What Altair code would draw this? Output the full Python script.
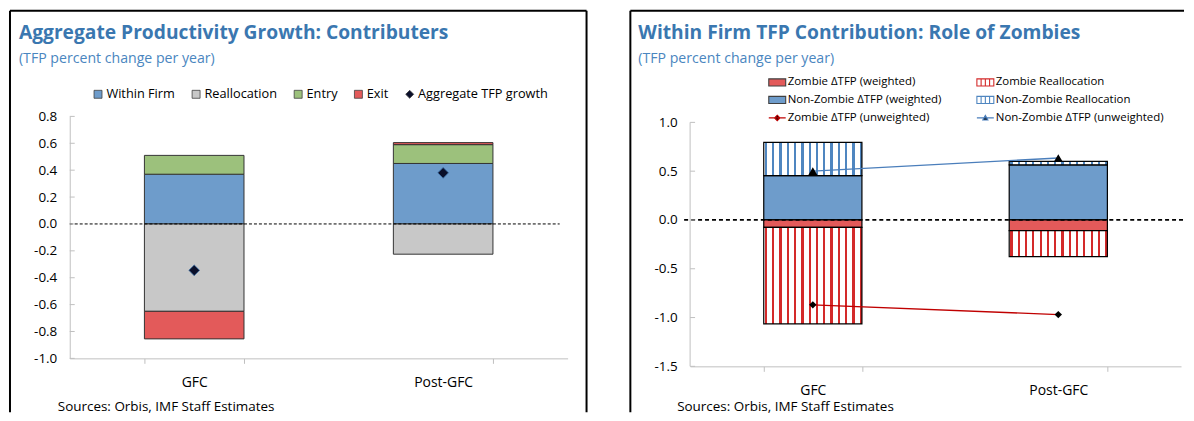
import altair as alt
import pandas as pd

PERIODS = ["GFC", "Post-GFC"]

# ---- Left panel: contributors to aggregate TFP growth ----
LEFT_TITLE = "Aggregate Productivity Growth: Contributers"
SUBTITLE = "(TFP percent change per year)"
SOURCES = "Sources: Orbis, IMF Staff Estimates"
LEFT_SERIES = ["Within Firm", "Reallocation", "Entry", "Exit", "Aggregate TFP growth"]
WITHIN_FIRM = [0.37, 0.45]
REALLOCATION = [-0.65, -0.225]
ENTRY = [0.14, 0.14]
EXIT = [-0.205, 0.015]
AGGREGATE = [-0.345, 0.38]
LEFT_TICKS = [0.8, 0.6, 0.4, 0.2, 0.0, -0.2, -0.4, -0.6, -0.8, -1.0]

# ---- Right panel: role of zombies ----
RIGHT_TITLE = "Within Firm TFP Contribution: Role of Zombies"
Z_W = "Zombie ΔTFP (weighted)"
Z_R = "Zombie Reallocation"
N_W = "Non-Zombie ΔTFP (weighted)"
N_R = "Non-Zombie Reallocation"
Z_U = "Zombie ΔTFP (unweighted)"
N_U = "Non-Zombie ΔTFP (unweighted)"
# legend fills column by column: col 1 then col 2
RIGHT_SERIES = [Z_W, N_W, Z_U, Z_R, N_R, N_U]
ZOMBIE_W = [-0.075, -0.11]
ZOMBIE_REALLOC = [-0.99, -0.265]
NONZOMBIE_W = [0.455, 0.565]
NONZOMBIE_REALLOC = [0.34, 0.035]
ZOMBIE_UNW = [-0.87, -0.97]
NONZOMBIE_UNW = [0.50, 0.635]
RIGHT_TICKS = [1.0, 0.5, 0.0, -0.5, -1.0, -1.5]

# ---- styles ----
FONT = "Open Sans"
GRAY = "#BFBFBF"
TITLE_BLUE = "#3A77B0"
SUB_BLUE = "#4A86C0"
BLUE = "#6E9CCB"
GREYF = "#C8C8C8"
GREEN = "#9CC17C"
RED = "#E35A5A"
LABEL_EXPR = "replace(format(datum.value, '.1f'), '\u2212', '-')"


def stripes(color, n=14, start=0.012, period=0.0742, w=0.022):
    stops = [{"offset": 0, "color": "white"}]
    for i in range(n):
        a = start + i * period
        b = min(a + w, 1)
        stops += [
            {"offset": a, "color": "white"},
            {"offset": a, "color": color},
            {"offset": b, "color": color},
            {"offset": b, "color": "white"},
        ]
    stops.append({"offset": 1, "color": "white"})
    return {"gradient": "linear", "x1": 0, "x2": 1, "y1": 0, "y2": 0, "stops": stops}


X_AXIS = alt.Axis(title=None, labelAngle=0, domainColor=GRAY, tickColor=GRAY,
                  tickBand="extent", tickSize=5, labelFontSize=14, labelColor="black",
                  labelPadding=12, labelFont=FONT)


def y_axis(values, domain=True):
    return alt.Axis(title=None, values=values, labelExpr=LABEL_EXPR, ticks=False,
                    domain=domain, domainColor=GRAY, labelFontSize=13.5, labelPadding=13,
                    grid=False, labelColor="black", labelFont=FONT, labelOverlap=False)


YAX_L = y_axis(LEFT_TICKS)
YAX_R = y_axis(RIGHT_TICKS, domain=False)


def text_layer(txt, x, y, size, color, weight="normal"):
    return alt.Chart(pd.DataFrame({"t": [txt]})).mark_text(
        align="left", baseline="alphabetic", fontSize=size, fontWeight=weight,
        color=color, font=FONT
    ).encode(text="t:N", x=alt.value(x), y=alt.value(y))


def rule_layer(**enc):
    return alt.Chart(pd.DataFrame({"a": [0]})).mark_rule(color="black", strokeWidth=2).encode(**enc)


# ================= LEFT =================
W1, H1 = 500, 243
xL = alt.Scale(domain=PERIODS, paddingInner=0.6, paddingOuter=0.3)
yL = alt.Scale(domain=[-1.0, 0.8], nice=False, zero=False)

rows = []
for i, p in enumerate(PERIODS):
    for o, (s, vals) in enumerate(zip(LEFT_SERIES[:4], [WITHIN_FIRM, REALLOCATION, ENTRY, EXIT])):
        rows.append({"period": p, "series": s, "value": vals[i], "ord": o})
left_df = pd.DataFrame(rows)
agg_df = pd.DataFrame({"period": PERIODS, "series": LEFT_SERIES[4], "value": AGGREGATE})

colL = alt.Scale(domain=LEFT_SERIES, range=[BLUE, GREYF, GREEN, RED, "#0A0F2A"])
shpL = alt.Scale(domain=LEFT_SERIES, range=["square", "square", "square", "square", "diamond"])
legL = alt.Legend(title=None, orient="none", legendX=22, legendY=-29, direction="horizontal",
                  symbolSize=64, labelFontSize=12.8, labelFont=FONT, labelColor="black",
                  columnPadding=14.5, symbolStrokeColor="#404040", symbolStrokeWidth=0.8,
                  labelOffset=2, labelLimit=300)

barsL = alt.Chart(left_df).mark_bar(stroke="#333333", strokeWidth=1).encode(
    x=alt.X("period:N", scale=xL, axis=X_AXIS, sort=PERIODS),
    y=alt.Y("value:Q", scale=yL, axis=YAX_L, stack="zero"),
    color=alt.Color("series:N", scale=colL, legend=legL),
    order=alt.Order("ord:Q"),
)
zeroL = alt.Chart(pd.DataFrame({"y": [0.0]})).mark_rule(color="black", strokeDash=[3, 2], strokeWidth=1).encode(
    y=alt.Y("y:Q", scale=yL, axis=YAX_L), x=alt.value(0), x2=alt.value(W1 - 8))
ptsL = alt.Chart(agg_df).mark_point(filled=True, size=115, stroke="#3A6EA5", strokeWidth=0.8, opacity=1).encode(
    x=alt.X("period:N", scale=xL, sort=PERIODS, axis=X_AXIS),
    y=alt.Y("value:Q", scale=yL, axis=YAX_L),
    color=alt.Color("series:N", scale=colL, legend=legL),
    shape=alt.Shape("series:N", scale=shpL, legend=legL),
)
ticksL = alt.Chart(pd.DataFrame({"v": LEFT_TICKS})).mark_rule(color=GRAY).encode(
    y=alt.Y("v:Q", scale=yL, axis=YAX_L), x=alt.value(0), x2=alt.value(5))

left = alt.layer(
    barsL, zeroL, ptsL, ticksL,
    text_layer(LEFT_TITLE, -51, -78, 19.3, TITLE_BLUE, "bold"),
    text_layer(SUBTITLE, -51, -54, 14.2, SUB_BLUE),
    text_layer(SOURCES, -12, 296, 13.5, "black"),
    rule_layer(x=alt.value(-60), y=alt.value(-106), y2=alt.value(H1 + 54)),
    rule_layer(x=alt.value(-60), x2=alt.value(W1 + 19), y=alt.value(-106)),
    rule_layer(x=alt.value(W1 + 19), y=alt.value(-106), y2=alt.value(H1 + 54)),
).properties(width=W1, height=H1)

# ================= RIGHT =================
# plot area starts 6px above the 1.0 gridline so both panels share their top edge
W2, H2 = 493, 251
yR = alt.Scale(domain=[-1.5, 1.0 + 6 / 98], nice=False, zero=False)
xR = alt.Scale(domain=PERIODS, paddingInner=0.6, paddingOuter=0.3)

brows = []
for i, p in enumerate(PERIODS):
    brows.append({"period": p, "series": N_W, "lo": 0, "hi": NONZOMBIE_W[i]})
    brows.append({"period": p, "series": N_R, "lo": NONZOMBIE_W[i],
                  "hi": NONZOMBIE_W[i] + NONZOMBIE_REALLOC[i]})
    brows.append({"period": p, "series": Z_W, "lo": 0, "hi": ZOMBIE_W[i]})
    brows.append({"period": p, "series": Z_R, "lo": ZOMBIE_W[i],
                  "hi": ZOMBIE_W[i] + ZOMBIE_REALLOC[i]})
bars_df = pd.DataFrame(brows)
unw_df = pd.DataFrame({
    "period": PERIODS * 2,
    "series": [Z_U] * 2 + [N_U] * 2,
    "value": ZOMBIE_UNW + NONZOMBIE_UNW,
})


def bar_layer(series, fill):
    return alt.Chart(bars_df).transform_filter(alt.datum.series == series).mark_bar(
        fill=fill, stroke="black", strokeWidth=1.2
    ).encode(
        x=alt.X("period:N", scale=xR, sort=PERIODS, axis=X_AXIS),
        y=alt.Y("lo:Q", scale=yR, axis=YAX_R),
        y2="hi:Q",
    )


RECT = "M-1,-0.42H1V0.42H-1Z"
STRIPED = "M-1,-0.42H1V0.42H-1Z M-0.5,-0.42V0.42 M0,-0.42V0.42 M0.5,-0.42V0.42"
LINE_DIAMOND = "M-1,0H1 M0,-0.32L0.32,0L0,0.32L-0.32,0Z"
LINE_TRIANGLE = "M-1,0H1 M-0.3,0.24L0,-0.3L0.3,0.24Z"

style = {
    Z_W: (RED, "#404040", RECT),
    N_W: (BLUE, "#404040", RECT),
    Z_U: ("black", "#C00000", LINE_DIAMOND),
    Z_R: ("white", "#D42A2A", STRIPED),
    N_R: ("white", "#4F86C0", STRIPED),
    N_U: ("black", "#4A7EBB", LINE_TRIANGLE),
}
fillR = alt.Scale(domain=RIGHT_SERIES, range=[style[s][0] for s in RIGHT_SERIES])
strokeR = alt.Scale(domain=RIGHT_SERIES, range=[style[s][1] for s in RIGHT_SERIES])
shapeR = alt.Scale(domain=RIGHT_SERIES, range=[style[s][2] for s in RIGHT_SERIES])
legR = alt.Legend(title=None, orient="none", legendX=78, legendY=-44, columns=2,
                  symbolSize=289, labelFontSize=11.5, labelFont=FONT, labelColor="black",
                  rowPadding=2, columnPadding=32, symbolStrokeWidth=1.1, symbolOpacity=1,
                  labelOffset=1, labelLimit=300)

legend_layer = alt.Chart(pd.DataFrame({"series": RIGHT_SERIES})).mark_point(filled=True, opacity=0).encode(
    fill=alt.Fill("series:N", scale=fillR, legend=legR),
    stroke=alt.Stroke("series:N", scale=strokeR, legend=legR),
    shape=alt.Shape("series:N", scale=shapeR, legend=legR),
)

zeroR = alt.Chart(pd.DataFrame({"y": [0.0]})).mark_rule(color="black", strokeDash=[4, 3], strokeWidth=1.8).encode(
    y=alt.Y("y:Q", scale=yR, axis=YAX_R), x=alt.value(-6), x2=alt.value(W2 + 3))


def line_layer(series, color):
    return alt.Chart(unw_df).transform_filter(alt.datum.series == series).mark_line(
        color=color, strokeWidth=1.3).encode(
        x=alt.X("period:N", scale=xR, sort=PERIODS, axis=X_AXIS),
        y=alt.Y("value:Q", scale=yR, axis=YAX_R))


def point_layer(series, shape, size):
    return alt.Chart(unw_df).transform_filter(alt.datum.series == series).mark_point(
        filled=True, color="black", shape=shape, size=size, opacity=1).encode(
        x=alt.X("period:N", scale=xR, sort=PERIODS, axis=X_AXIS),
        y=alt.Y("value:Q", scale=yR, axis=YAX_R))


ticksR = alt.Chart(pd.DataFrame({"v": RIGHT_TICKS})).mark_rule(color=GRAY).encode(
    y=alt.Y("v:Q", scale=yR, axis=YAX_R), x=alt.value(0), x2=alt.value(5))
axis_lineR = alt.Chart(pd.DataFrame({"top": [RIGHT_TICKS[0]], "bot": [RIGHT_TICKS[-1]]})).mark_rule(
    color=GRAY).encode(y=alt.Y("top:Q", scale=yR, axis=YAX_R), y2="bot:Q", x=alt.value(0))

right = alt.layer(
    bar_layer(N_W, BLUE),
    bar_layer(N_R, stripes("#4F86C0")),
    bar_layer(Z_W, RED),
    bar_layer(Z_R, stripes("#D42A2A")),
    zeroR,
    line_layer(Z_U, "#C00000"),
    line_layer(N_U, "#4A7EBB"),
    point_layer(Z_U, "diamond", 55),
    point_layer(N_U, "triangle-up", 80),
    legend_layer,
    ticksR,
    axis_lineR,
    text_layer(RIGHT_TITLE, -52, -78, 19.3, TITLE_BLUE, "bold"),
    text_layer(SUBTITLE, -52, -54, 14.2, SUB_BLUE),
    text_layer(SOURCES, -13, 296, 13.5, "black"),
    rule_layer(x=alt.value(-60), y=alt.value(-106), y2=alt.value(H2 + 46)),
    rule_layer(x=alt.value(-60), x2=alt.value(W2 + 3), y=alt.value(-106)),
).properties(width=W2, height=H2)

chart = alt.hconcat(left, right, spacing=40).properties(padding=0).resolve_scale(
    color="independent", fill="independent", stroke="independent", shape="independent"
).resolve_legend(
    color="independent", fill="independent", stroke="independent", shape="independent"
).configure(font=FONT).configure_view(stroke="transparent")

chart.save("out.html", embed_options={"renderer": "svg", "actions": False})
